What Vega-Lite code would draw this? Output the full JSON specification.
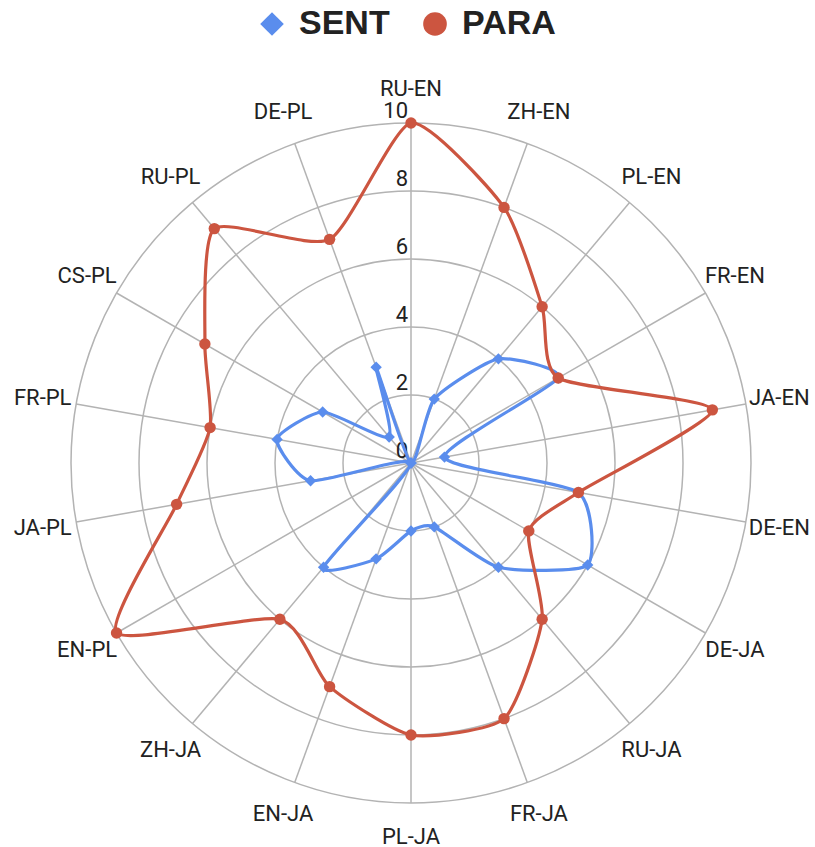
{
  "$schema": "https://vega.github.io/schema/vega-lite/v6.json",
  "width": 815,
  "height": 847,
  "padding": 0,
  "autosize": {"type": "none"},
  "background": "white",
  "config": {
    "view": {"stroke": null},
    "legend": {"orient": "none", "legendX": 255, "legendY": 7, "direction": "horizontal", "padding": 0, "labelFont": "Liberation Sans", "labelFontSize": 34, "labelFontWeight": "bold", "labelColor": "#222222", "symbolSize": 560, "symbolStrokeWidth": 0, "labelOffset": 10, "columnPadding": 28, "symbolOpacity": 1}
  },
  "datasets": {
    "scores": [
      {"pair": "RU-EN", "SENT": 0, "PARA": 10},
      {"pair": "ZH-EN", "SENT": 2, "PARA": 8},
      {"pair": "PL-EN", "SENT": 4, "PARA": 6},
      {"pair": "FR-EN", "SENT": 5, "PARA": 5},
      {"pair": "JA-EN", "SENT": 1, "PARA": 9},
      {"pair": "DE-EN", "SENT": 5, "PARA": 5},
      {"pair": "DE-JA", "SENT": 6, "PARA": 4},
      {"pair": "RU-JA", "SENT": 4, "PARA": 6},
      {"pair": "FR-JA", "SENT": 2, "PARA": 8},
      {"pair": "PL-JA", "SENT": 2, "PARA": 8},
      {"pair": "EN-JA", "SENT": 3, "PARA": 7},
      {"pair": "ZH-JA", "SENT": 4, "PARA": 6},
      {"pair": "EN-PL", "SENT": 0, "PARA": 10},
      {"pair": "JA-PL", "SENT": 3, "PARA": 7},
      {"pair": "FR-PL", "SENT": 4, "PARA": 6},
      {"pair": "CS-PL", "SENT": 3, "PARA": 7},
      {"pair": "RU-PL", "SENT": 1, "PARA": 9},
      {"pair": "DE-PL", "SENT": 3, "PARA": 7}
    ],
    "ticks": [{"v": 0}, {"v": 2}, {"v": 4}, {"v": 6}, {"v": 8}, {"v": 10}]
  },
  "layer": [
    {
      "data": {"name": "ticks"},
      "transform": [{"filter": "datum.v > 0"}, {"calculate": "0", "as": "c0"}],
      "mark": {"type": "point", "shape": "circle", "filled": false, "color": "#b3b3b3", "strokeWidth": 1.5, "opacity": 1},
      "encoding": {
        "x": {"field": "c0", "type": "quantitative", "scale": {"domain": [-12.088, 11.882], "nice": false, "zero": false}, "axis": null},
        "y": {"field": "c0", "type": "quantitative", "scale": {"domain": [-11.294, 13.618], "nice": false, "zero": false}, "axis": null},
        "size": {"field": "v", "type": "quantitative", "scale": {"type": "pow", "exponent": 2, "domain": [0, 10], "range": [0, 462400], "zero": true}, "legend": null}
      }
    },
    {
      "data": {"name": "scores"},
      "transform": [
        {"window": [{"op": "row_number", "as": "rn"}]},
        {"calculate": "(datum.rn - 1) * PI / 9", "as": "ang"},
        {"calculate": "0", "as": "c0"},
        {"calculate": "10 * sin(datum.ang)", "as": "sx"},
        {"calculate": "10 * cos(datum.ang)", "as": "sy"}
      ],
      "mark": {"type": "rule", "color": "#b3b3b3", "strokeWidth": 1.5},
      "encoding": {
        "x": {"field": "c0", "type": "quantitative", "axis": null},
        "y": {"field": "c0", "type": "quantitative", "axis": null},
        "x2": {"field": "sx"},
        "y2": {"field": "sy"}
      }
    },
    {
      "data": {"name": "ticks"},
      "transform": [{"calculate": "0", "as": "c0"}],
      "mark": {"type": "text", "align": "right", "baseline": "alphabetic", "dx": -3, "dy": -5, "font": "Roboto", "fontSize": 22, "color": "#222222"},
      "encoding": {
        "x": {"field": "c0", "type": "quantitative", "axis": null},
        "y": {"field": "v", "type": "quantitative", "axis": null},
        "text": {"field": "v", "type": "quantitative"}
      }
    },
    {
      "data": {"name": "scores"},
      "transform": [
        {"window": [{"op": "row_number", "as": "rn"}]},
        {"calculate": "(datum.rn - 1) * PI / 9", "as": "ang"},
        {"calculate": "11 * sin(datum.ang)", "as": "lx"},
        {"calculate": "11 * cos(datum.ang)", "as": "ly"}
      ],
      "mark": {"type": "text", "align": "center", "baseline": "middle", "font": "Roboto", "fontSize": 22, "color": "#222222"},
      "encoding": {
        "x": {"field": "lx", "type": "quantitative", "axis": null},
        "y": {"field": "ly", "type": "quantitative", "axis": null},
        "text": {"field": "pair", "type": "nominal"}
      }
    },
    {
      "data": {"name": "scores"},
      "transform": [
        {"window": [{"op": "row_number", "as": "rn"}]},
        {"calculate": "(datum.rn - 1) * PI / 9", "as": "ang"},
        {"fold": ["SENT", "PARA"], "as": ["series", "value"]},
        {"calculate": "datum.value * sin(datum.ang)", "as": "px"},
        {"calculate": "datum.value * cos(datum.ang)", "as": "py"}
      ],
      "mark": {"type": "line", "interpolate": "cardinal-closed", "tension": 0.4, "strokeWidth": 3.2},
      "encoding": {
        "x": {"field": "px", "type": "quantitative", "axis": null},
        "y": {"field": "py", "type": "quantitative", "axis": null},
        "order": {"field": "rn", "type": "quantitative"},
        "detail": {"field": "series", "type": "nominal"},
        "stroke": {"condition": {"test": "datum.series === 'SENT'", "value": "#5a8ded"}, "value": "#cc5540"}
      }
    },
    {
      "data": {"name": "scores"},
      "transform": [
        {"window": [{"op": "row_number", "as": "rn"}]},
        {"calculate": "(datum.rn - 1) * PI / 9", "as": "ang"},
        {"fold": ["SENT", "PARA"], "as": ["series", "value"]},
        {"calculate": "datum.value * sin(datum.ang)", "as": "px"},
        {"calculate": "datum.value * cos(datum.ang)", "as": "py"}
      ],
      "mark": {"type": "point", "filled": true, "size": 130, "opacity": 1},
      "encoding": {
        "x": {"field": "px", "type": "quantitative", "axis": null},
        "y": {"field": "py", "type": "quantitative", "axis": null},
        "color": {"field": "series", "type": "nominal", "scale": {"domain": ["SENT", "PARA"], "range": ["#5a8ded", "#cc5540"]}, "title": null},
        "shape": {"field": "series", "type": "nominal", "scale": {"domain": ["SENT", "PARA"], "range": ["diamond", "circle"]}, "title": null}
      }
    }
  ]
}
